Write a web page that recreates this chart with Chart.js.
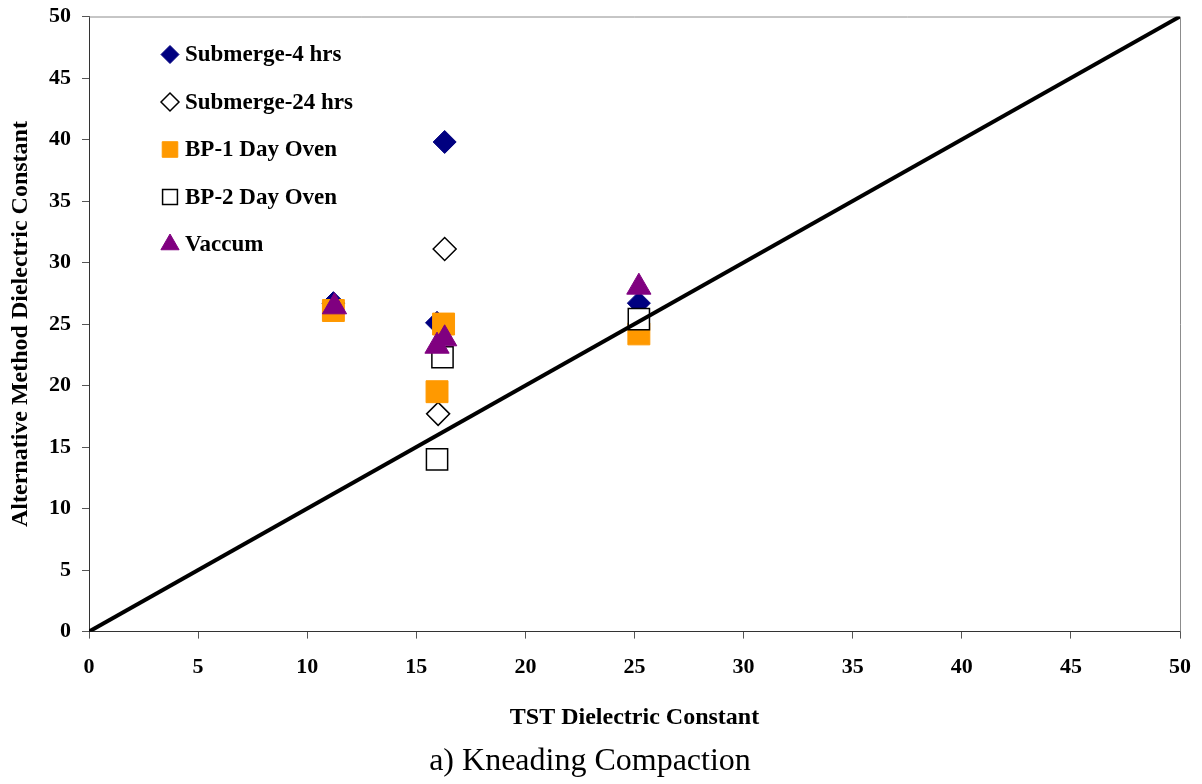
<!DOCTYPE html>
<html>
<head>
<meta charset="utf-8">
<title>Kneading Compaction</title>
<script src="https://cdn.jsdelivr.net/npm/chart.js@4.4.0/dist/chart.umd.min.js"></script>
<style>
  html, body { margin: 0; padding: 0; background: #fff; }
  #wrap { width: 1202px; height: 784px; }
</style>
</head>
<body>
<div id="wrap"><canvas id="chart" width="1202" height="784"></canvas></div>
<script>
// TST dielectric constant (x) vs alternative method dielectric constant (y)
const submerge4X = [11.2, 15.95, 16.3, 25.2];
const submerge4Y = [26.7, 25.1, 39.8, 26.7];

const submerge24X = [16.3, 16.0];
const submerge24Y = [31.1, 17.7];

const bp1X = [11.2, 16.25, 15.95, 25.2];
const bp1Y = [26.1, 25.0, 19.5, 24.2];

const bp2X = [16.2, 15.95, 25.2];
const bp2Y = [22.3, 14.0, 25.4];

const vaccumX = [11.25, 15.95, 16.3, 25.2];
const vaccumY = [26.4, 23.2, 23.8, 28.0];

// line of equality
const equalityX = [0, 50];
const equalityY = [0, 50];

const axisTicks = [0, 5, 10, 15, 20, 25, 30, 35, 40, 45, 50];

const SERIF = '"Liberation Serif", "Times New Roman", serif';

function toPoints(xs, ys) {
    return xs.map((x, i) => ({ x: x, y: ys[i] }));
}

/**
 * Grey frame on the top and right of the plot area
 */
const plotFrame = {
    id: 'plotFrame',
    beforeDatasetsDraw(chart) {
        const { ctx, chartArea: a } = chart;
        ctx.save();
        ctx.strokeStyle = '#8c8c8c';
        ctx.lineWidth = 1;
        ctx.beginPath();
        ctx.moveTo(a.left, a.top + 0.5);
        ctx.lineTo(a.right + 0.5, a.top + 0.5);
        ctx.lineTo(a.right + 0.5, a.bottom);
        ctx.stroke();
        ctx.restore();
    }
};

/**
 * Legend drawn inside the plot area, top left, like the original
 */
const insideLegend = {
    id: 'insideLegend',
    afterDatasetsDraw(chart) {
        const { ctx, chartArea: a } = chart;
        const markerX = a.left + 81;
        const textX = a.left + 96;
        let y = a.top + 38;

        ctx.save();
        chart.data.datasets.forEach(ds => {
            if (!ds.legendRadius) return;

            ctx.fillStyle = ds.backgroundColor;
            ctx.strokeStyle = ds.borderColor;
            ctx.lineWidth = ds.borderWidth;
            Chart.helpers.drawPoint(ctx, {
                pointStyle: ds.pointStyle,
                radius: ds.legendRadius,
                rotation: 0,
                borderWidth: ds.borderWidth
            }, markerX, y);

            ctx.fillStyle = '#000';
            ctx.font = 'bold 23px ' + SERIF;
            ctx.textAlign = 'left';
            ctx.textBaseline = 'middle';
            ctx.fillText(ds.label, textX, y + 1);
            y += 47.5;
        });
        ctx.restore();
    }
};

const ctx = document.getElementById('chart').getContext('2d');

new Chart(ctx, {
    data: {
        datasets: [
            {
                type: 'line',
                label: 'Equality',
                data: toPoints(equalityX, equalityY),
                borderColor: '#000',
                borderWidth: 4,
                pointRadius: 0,
                fill: false,
                order: 0
            },
            {
                type: 'scatter',
                label: 'Submerge-4 hrs',
                data: toPoints(submerge4X, submerge4Y),
                pointStyle: 'rectRot',
                pointRadius: 11.5,
                backgroundColor: '#000080',
                borderColor: '#000080',
                borderWidth: 1,
                legendRadius: 9,
                order: 5
            },
            {
                type: 'scatter',
                label: 'Submerge-24 hrs',
                data: toPoints(submerge24X, submerge24Y),
                pointStyle: 'rectRot',
                pointRadius: 11.5,
                backgroundColor: '#ffffff',
                borderColor: '#000000',
                borderWidth: 1.5,
                legendRadius: 9,
                order: 4
            },
            {
                type: 'scatter',
                label: 'BP-1 Day Oven',
                data: toPoints(bp1X, bp1Y),
                pointStyle: 'rect',
                pointRadius: 15.5,
                backgroundColor: '#ff9900',
                borderColor: '#ff9900',
                borderWidth: 1,
                legendRadius: 11,
                order: 3
            },
            {
                type: 'scatter',
                label: 'BP-2 Day Oven',
                data: toPoints(bp2X, bp2Y),
                pointStyle: 'rect',
                pointRadius: 15,
                backgroundColor: '#ffffff',
                borderColor: '#000000',
                borderWidth: 1.5,
                legendRadius: 10.5,
                order: 2
            },
            {
                type: 'scatter',
                label: 'Vaccum',
                data: toPoints(vaccumX, vaccumY),
                pointStyle: 'triangle',
                pointRadius: 14,
                backgroundColor: '#800080',
                borderColor: '#800080',
                borderWidth: 1,
                legendRadius: 10.5,
                order: 1
            }
        ]
    },
    options: {
        responsive: false,
        animation: false,
        layout: {
            padding: { top: 15, right: 22, left: 0, bottom: 0 }
        },
        scales: {
            x: {
                type: 'linear',
                min: 0,
                max: 50,
                afterBuildTicks(scale) {
                    scale.ticks = axisTicks.map(v => ({ value: v }));
                },
                afterFit(scale) {
                    // fixed band under the plot, no extra side padding from labels
                    scale.height = 106;
                    scale.paddingLeft = 0;
                    scale.paddingRight = 0;
                },
                grid: {
                    drawOnChartArea: false,
                    tickLength: 7,
                    color: '#555'
                },
                border: { color: '#333', width: 1 },
                ticks: {
                    color: '#000',
                    padding: 16,
                    maxRotation: 0,
                    font: { family: SERIF, size: 22, weight: 'bold' }
                },
                title: {
                    display: true,
                    text: 'TST Dielectric Constant',
                    color: '#000',
                    padding: { top: 0, bottom: 5 },
                    font: { family: SERIF, size: 24, weight: 'bold' }
                }
            },
            y: {
                type: 'linear',
                min: 0,
                max: 50,
                afterBuildTicks(scale) {
                    scale.ticks = axisTicks.map(v => ({ value: v }));
                },
                afterFit(scale) {
                    scale.width = 89;
                    scale.paddingTop = 0;
                    scale.paddingBottom = 0;
                },
                grid: {
                    drawOnChartArea: false,
                    tickLength: 7,
                    color: '#555'
                },
                border: { color: '#333', width: 1 },
                ticks: {
                    color: '#000',
                    padding: 11,
                    font: { family: SERIF, size: 22, weight: 'bold' }
                },
                title: {
                    display: true,
                    text: 'Alternative Method Dielectric Constant',
                    color: '#000',
                    padding: { top: 6, bottom: 0 },
                    font: { family: SERIF, size: 24, weight: 'bold' }
                }
            }
        },
        plugins: {
            legend: { display: false },
            tooltip: { enabled: false },
            title: {
                display: true,
                position: 'bottom',
                text: 'a) Kneading Compaction',
                color: '#000',
                padding: { top: 5, bottom: 3 },
                font: { family: SERIF, size: 32, weight: 'normal' }
            }
        }
    },
    plugins: [plotFrame, insideLegend]
});
</script>
</body>
</html>
